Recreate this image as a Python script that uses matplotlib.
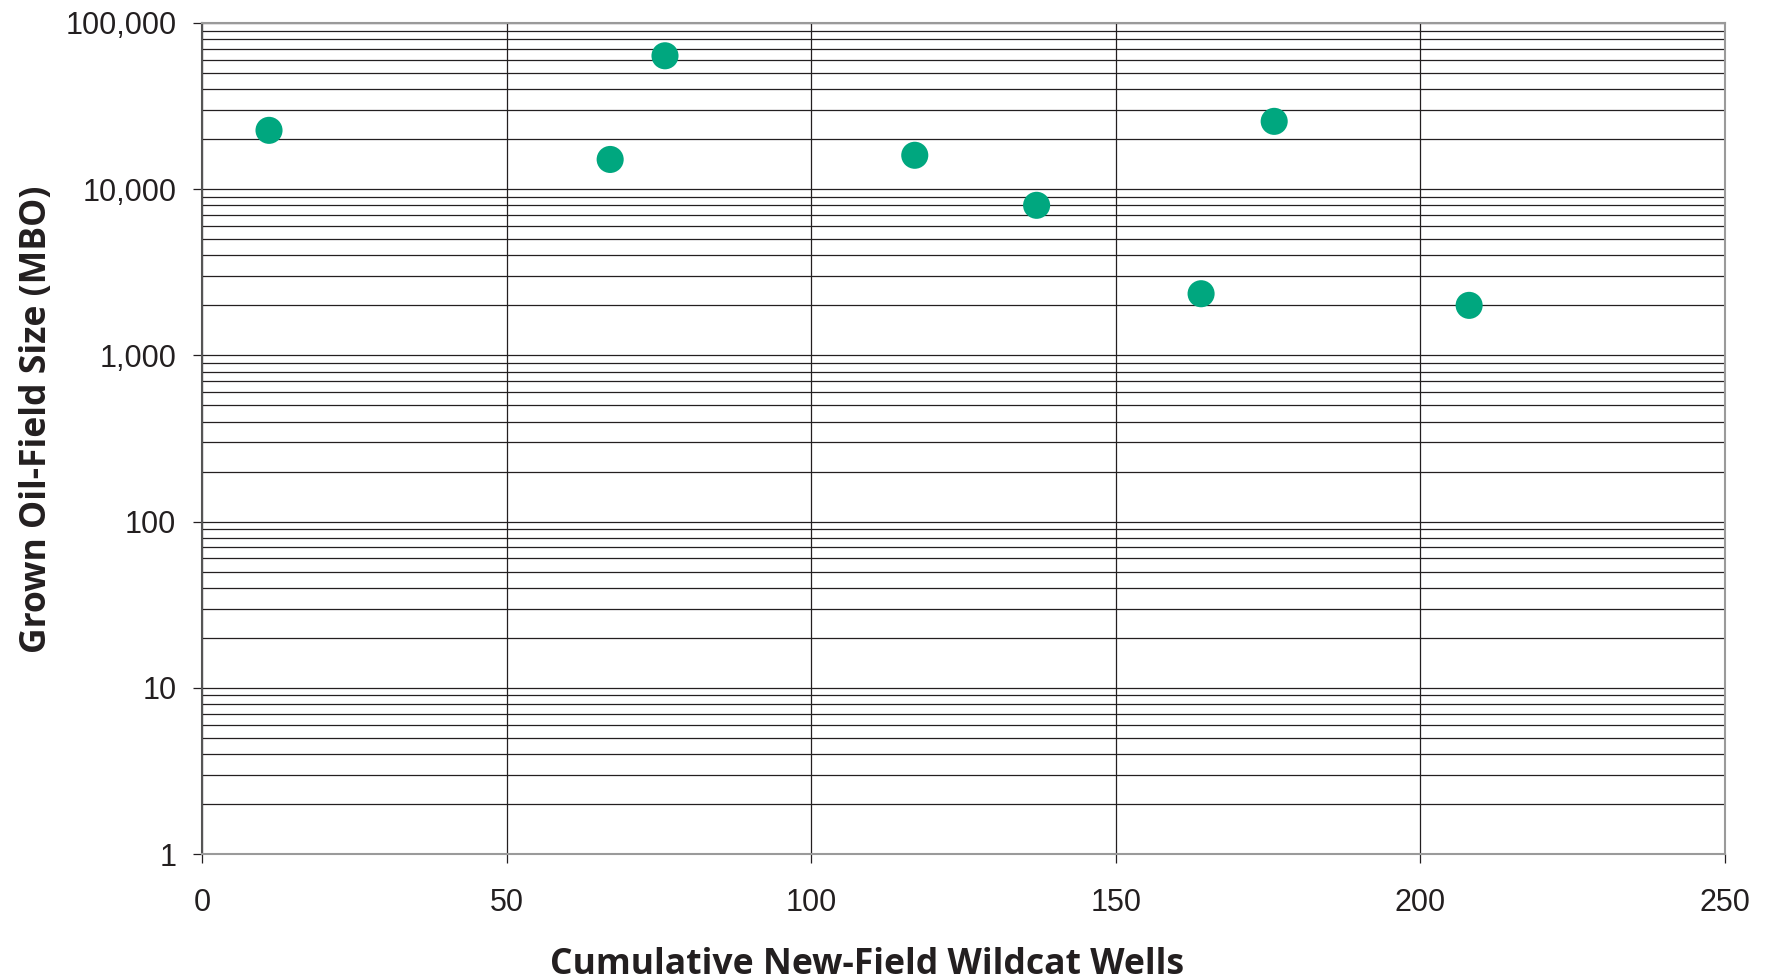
import matplotlib
matplotlib.use("Agg")
import matplotlib.pyplot as plt
from matplotlib.ticker import FixedLocator, LogLocator, NullFormatter

# Data
wells = [11, 67, 76, 117, 137, 164, 176, 208]
field_size = [22600, 15100, 63500, 16000, 8000, 2350, 25600, 2000]

x_ticks = [0, 50, 100, 150, 200, 250]
y_ticks = [1, 10, 100, 1000, 10000, 100000]
y_tick_labels = ["1", "10", "100", "1,000", "10,000", "100,000"]
x_label = "Cumulative New-Field Wildcat Wells"
y_label = "Grown Oil-Field Size (MBO)"

W, H = 1771, 980
fig = plt.figure(figsize=(W / 100, H / 100), dpi=100)
ax = fig.add_axes([202 / W, 1 - 854 / H, (1725 - 202) / W, (854 - 23) / H])

ax.set_yscale("log")
ax.set_xlim(0, 250)
ax.set_ylim(1, 100000)

ink = "#231f20"
ax.set_xticks(x_ticks)
ax.set_xticklabels([str(t) for t in x_ticks])
ax.yaxis.set_major_locator(FixedLocator(y_ticks))
ax.set_yticklabels(y_tick_labels)
ax.yaxis.set_minor_locator(LogLocator(base=10, subs=range(2, 10), numticks=20))
ax.yaxis.set_minor_formatter(NullFormatter())

ax.grid(True, which="major", axis="both", color=ink, linewidth=0.9)
ax.grid(True, which="minor", axis="y", color=ink, linewidth=0.9)
ax.set_axisbelow(True)

ax.tick_params(axis="both", which="major", direction="out", length=6.5, width=0.9,
               color=ink, labelcolor=ink, labelsize=22, labelfontfamily="Liberation Sans")
ax.tick_params(axis="y", which="major", pad=12)
ax.tick_params(axis="x", which="major", pad=18)
ax.tick_params(axis="y", which="minor", length=0)

for side in ["top", "right", "bottom", "left"]:
    ax.spines[side].set_color("#9a9a9a")
    ax.spines[side].set_linewidth(1.5)
ax.spines["left"].set_color("#555555")

ax.scatter(wells, field_size, s=380, color="#00a77f", edgecolors="none", zorder=3, clip_on=False)

fig.text(867 / W, 1 - 974 / H, x_label, ha="center", va="baseline",
         fontsize=25.6, fontweight="bold", family="Open Sans", color=ink)
fig.text(46 / W, 1 - 419 / H, y_label, ha="center", va="baseline", rotation=90,
         rotation_mode="anchor",
         fontsize=25.6, fontweight="bold", family="Open Sans", color=ink)

fig.savefig("out.png", dpi=100)
